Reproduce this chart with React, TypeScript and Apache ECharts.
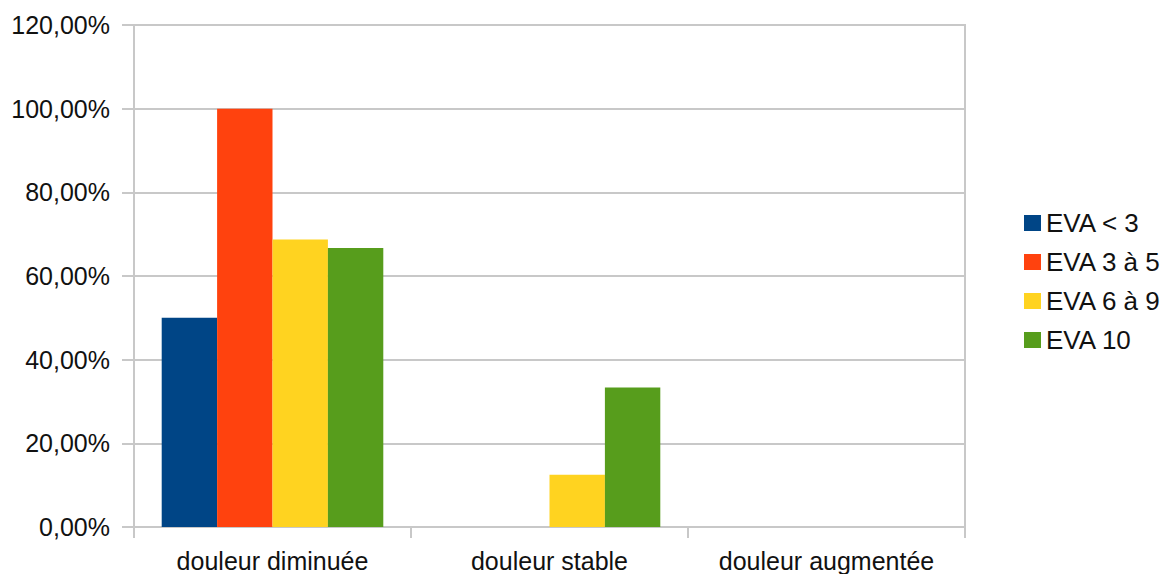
import React, { useEffect, useRef } from "react";
import * as echarts from "echarts";

const categories = ["douleur diminuée", "douleur stable", "douleur augmentée"];
const seriesNames = ["EVA < 3", "EVA 3 à 5", "EVA 6 à 9", "EVA 10"];
const evaLt3 = [0.5, 0, 0];
const eva3to5 = [1.0, 0, 0];
const eva6to9 = [0.6875, 0.125, 0];
const eva10 = [0.6667, 0.3333, 0];
const seriesValues = [evaLt3, eva3to5, eva6to9, eva10];
const colors = ["#004586", "#ff420e", "#ffd320", "#579d1c"];

const FONT = "'Liberation Sans', Arial, sans-serif";
const GRID_COLOR = "#c8c8c8";

export default function App() {
  const ref = useRef<HTMLDivElement>(null);
  useEffect(() => {
    if (!ref.current) return;
    const chart = echarts.init(ref.current, undefined, { renderer: "svg" });
    chart.setOption({
      animation: false,
      backgroundColor: "#ffffff",
      textStyle: { fontFamily: FONT },
      grid: {
        left: 134,
        right: 209,
        top: 25,
        bottom: 47,
        show: true,
        borderColor: GRID_COLOR,
        borderWidth: 2,
      },
      legend: {
        orient: "vertical",
        left: 1019,
        top: 205,
        itemWidth: 17,
        itemHeight: 16,
        itemGap: 13,
        icon: "rect",
        data: seriesNames,
        textStyle: { fontSize: 26, color: "#111", fontFamily: FONT },
      },
      xAxis: {
        type: "category",
        data: categories,
        axisLine: { show: true, lineStyle: { color: GRID_COLOR, width: 2 } },
        axisTick: { show: true, interval: 0, length: 11, lineStyle: { color: GRID_COLOR, width: 2 } },
        axisLabel: { interval: 0, fontSize: 25, color: "#111", margin: 21, fontFamily: FONT },
        splitLine: { show: false },
      },
      yAxis: {
        type: "value",
        min: 0,
        max: 1.2,
        interval: 0.2,
        axisLine: { show: true, lineStyle: { color: GRID_COLOR, width: 2 } },
        axisTick: { show: true, length: 12, lineStyle: { color: GRID_COLOR, width: 2 } },
        axisLabel: {
          fontSize: 25,
          color: "#111",
          margin: 24,
          fontFamily: FONT,
          formatter: (v: number) => (v * 100).toFixed(2).replace(".", ",") + "%",
        },
        splitLine: { show: true, lineStyle: { color: GRID_COLOR, width: 2 } },
      },
      series: seriesNames.map((name, i) => ({
        name,
        type: "bar",
        data: seriesValues[i],
        itemStyle: { color: colors[i] },
        barGap: "0%",
        barCategoryGap: "20%",
      })),
    });
    return () => chart.dispose();
  }, []);
  return <div ref={ref} style={{ width: 1174, height: 574, position: "absolute", left: 0, top: 0 }} />;
}
